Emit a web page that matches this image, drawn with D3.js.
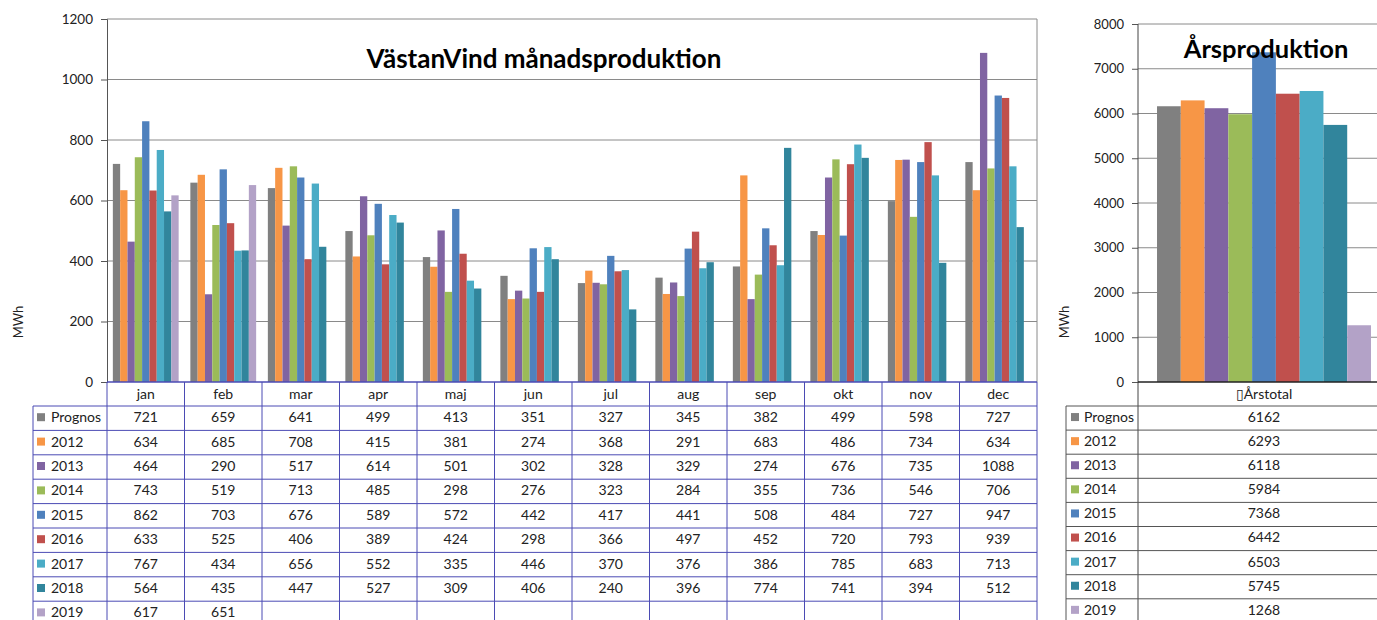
<!doctype html>
<html>
<head>
<meta charset="utf-8">
<style>
  body { margin: 0; background: #fff; }
  svg text { font-family: Lato, "Open Sans", sans-serif; fill: #222; }
</style>
<script src="https://d3js.org/d3.v7.min.js"></script>
</head>
<body>
<svg id="chart" width="1377" height="620"></svg>
<script>
// --- data ---
var months = ["jan", "feb", "mar", "apr", "maj", "jun", "jul", "aug", "sep", "okt", "nov", "dec"];
var seriesNames = ["Prognos", "2012", "2013", "2014", "2015", "2016", "2017", "2018", "2019"];
var prognos = [721, 659, 641, 499, 413, 351, 327, 345, 382, 499, 598, 727];
var y2012 = [634, 685, 708, 415, 381, 274, 368, 291, 683, 486, 734, 634];
var y2013 = [464, 290, 517, 614, 501, 302, 328, 329, 274, 676, 735, 1088];
var y2014 = [743, 519, 713, 485, 298, 276, 323, 284, 355, 736, 546, 706];
var y2015 = [862, 703, 676, 589, 572, 442, 417, 441, 508, 484, 727, 947];
var y2016 = [633, 525, 406, 389, 424, 298, 366, 497, 452, 720, 793, 939];
var y2017 = [767, 434, 656, 552, 335, 446, 370, 376, 386, 785, 683, 713];
var y2018 = [564, 435, 447, 527, 309, 406, 240, 396, 774, 741, 394, 512];
var y2019 = [617, 651];
var yearTotals = [6162, 6293, 6118, 5984, 7368, 6442, 6503, 5745, 1268];
var monthTicks = [0, 200, 400, 600, 800, 1000, 1200];
var yearTicks = [0, 1000, 2000, 3000, 4000, 5000, 6000, 7000, 8000];
var colors = ["#808080", "#f79646", "#8064a2", "#9bbb59", "#4f81bd", "#c0504d", "#4bacc6", "#31859c", "#b3a2c7"];

var seriesValues = [prognos, y2012, y2013, y2014, y2015, y2016, y2017, y2018, y2019];

var svg = d3.select("#chart");
var gridColor = "#8a8a8a";
var tableBlue = "#4b4bb4";

// ================= left chart: monthly =================
var L = { left: 107, right: 1037, top: 19, bottom: 382 };
var x0 = d3.scaleBand().domain(months).range([L.left, L.right]);
var x1 = d3.scaleBand().domain(seriesNames).range([0, x0.bandwidth()]).paddingOuter(0.8);
var y = d3.scaleLinear().domain([0, 1200]).range([L.bottom, L.top]);

var left = svg.append("g");

left.selectAll(".grid")
    .data(monthTicks.filter(function(d) { return d > 0; }))
    .enter().append("line")
    .attr("x1", L.left).attr("x2", L.right)
    .attr("y1", function(d) { return y(d); }).attr("y2", function(d) { return y(d); })
    .attr("stroke", gridColor);

left.append("line")
    .attr("x1", L.right).attr("x2", L.right).attr("y1", L.top).attr("y2", L.bottom)
    .attr("stroke", gridColor);

var yAx = left.append("g")
    .attr("transform", "translate(" + L.left + ",0)")
    .call(d3.axisLeft(y).tickValues(monthTicks).tickFormat(d3.format("d")).tickSize(6).tickPadding(8));
yAx.select(".domain").attr("stroke", "#555");
yAx.selectAll(".tick line").attr("stroke", "#555");
yAx.selectAll("text").attr("font-size", 13.5).attr("fill", "#222");

// bars
seriesValues.forEach(function(vals, si) {
    left.append("g").selectAll("rect")
        .data(vals)
        .enter().append("rect")
        .attr("x", function(d, i) { return x0(months[i]) + x1(seriesNames[si]); })
        .attr("y", function(d) { return y(d); })
        .attr("width", x1.bandwidth())
        .attr("height", function(d) { return y(0) - y(d); })
        .attr("fill", colors[si]);
});

left.append("text")
    .attr("x", 544).attr("y", 68)
    .attr("text-anchor", "middle")
    .attr("font-size", 26).attr("font-weight", "bold")
    .style("fill", "#000")
    .text("VästanVind månadsproduktion");

left.append("text")
    .attr("transform", "translate(23,322) rotate(-90)")
    .attr("text-anchor", "middle")
    .attr("font-size", 13)
    .text("MWh");

// data table
var rowH = 24.4, headTop = 382, bodyTop = 406, labelLeft = 33;
var tbl = left.append("g");
var nRows = seriesNames.length;

months.forEach(function(m) {
    tbl.append("text")
       .attr("x", x0(m) + x0.bandwidth() / 2).attr("y", headTop + 12)
       .attr("dy", "0.35em").attr("text-anchor", "middle").attr("font-size", 14)
       .text(m);
});

d3.range(nRows + 1).forEach(function(r) {
    tbl.append("line")
       .attr("x1", labelLeft).attr("x2", L.right)
       .attr("y1", bodyTop + r * rowH).attr("y2", bodyTop + r * rowH)
       .attr("stroke", tableBlue);
});
tbl.append("line")
   .attr("x1", L.left).attr("x2", L.right).attr("y1", headTop).attr("y2", headTop)
   .attr("stroke", tableBlue).attr("stroke-width", 1.5);
tbl.append("line")
   .attr("x1", labelLeft).attr("x2", labelLeft).attr("y1", bodyTop).attr("y2", 620)
   .attr("stroke", tableBlue);
months.concat(["end"]).forEach(function(m, i) {
    var xx = i < months.length ? x0(m) : L.right;
    tbl.append("line")
       .attr("x1", xx).attr("x2", xx).attr("y1", headTop).attr("y2", 620)
       .attr("stroke", tableBlue);
});

seriesNames.forEach(function(name, si) {
    var cy = bodyTop + si * rowH + rowH / 2 - 1;
    tbl.append("rect")
       .attr("x", 37).attr("y", cy - 4).attr("width", 8).attr("height", 8)
       .attr("fill", colors[si]);
    tbl.append("text")
       .attr("x", 51).attr("y", cy).attr("dy", "0.35em").attr("font-size", 14)
       .text(name);
    seriesValues[si].forEach(function(v, i) {
        tbl.append("text")
           .attr("x", x0(months[i]) + x0.bandwidth() / 2).attr("y", cy)
           .attr("dy", "0.35em").attr("text-anchor", "middle").attr("font-size", 14)
           .text(v);
    });
});

// ================= right chart: yearly totals =================
var R = { left: 1138, right: 1390, top: 24, bottom: 382 };
var xr = d3.scaleBand().domain(seriesNames).range([R.left, R.right]).paddingOuter(0.8);
var yr = d3.scaleLinear().domain([0, 8000]).range([R.bottom, R.top]);

var right = svg.append("g");

right.selectAll(".grid")
    .data(yearTicks.filter(function(d) { return d > 0; }))
    .enter().append("line")
    .attr("x1", R.left).attr("x2", R.right)
    .attr("y1", function(d) { return yr(d); }).attr("y2", function(d) { return yr(d); })
    .attr("stroke", gridColor);

var yrAx = right.append("g")
    .attr("transform", "translate(" + R.left + ",0)")
    .call(d3.axisLeft(yr).tickValues(yearTicks).tickFormat(d3.format("d")).tickSize(6).tickPadding(8));
yrAx.select(".domain").remove();
yrAx.selectAll(".tick line").attr("stroke", "#555");
yrAx.selectAll("text").attr("font-size", 13).attr("fill", "#222");

right.selectAll(".tot")
    .data(yearTotals)
    .enter().append("rect")
    .attr("x", function(d, i) { return xr(seriesNames[i]); })
    .attr("y", function(d) { return yr(d); })
    .attr("width", xr.bandwidth())
    .attr("height", function(d) { return yr(0) - yr(d); })
    .attr("fill", function(d, i) { return colors[i]; });

right.append("line")
    .attr("x1", R.left).attr("x2", R.left).attr("y1", R.top).attr("y2", 620)
    .attr("stroke", "#444");
right.append("line")
    .attr("x1", R.left).attr("x2", R.right).attr("y1", R.bottom).attr("y2", R.bottom)
    .attr("stroke", "#222").attr("stroke-width", 1.5);

right.append("text")
    .attr("x", 1266).attr("y", 58)
    .attr("text-anchor", "middle")
    .attr("font-size", 25.5).attr("font-weight", "bold")
    .style("fill", "#000")
    .text("Årsproduktion");

right.append("text")
    .attr("transform", "translate(1069,322) rotate(-90)")
    .attr("text-anchor", "middle")
    .attr("font-size", 13)
    .text("MWh");

var rowH2 = 24.1, labelLeft2 = 1066;
var tbl2 = right.append("g");
tbl2.append("text")
    .attr("x", 1264).attr("y", headTop + 12).attr("dy", "0.35em")
    .attr("text-anchor", "middle").attr("font-size", 14)
    .text("\u25AFÅrstotal");

d3.range(nRows + 1).forEach(function(r) {
    tbl2.append("line")
        .attr("x1", labelLeft2).attr("x2", R.right)
        .attr("y1", bodyTop + r * rowH2).attr("y2", bodyTop + r * rowH2)
        .attr("stroke", "#555");
});
tbl2.append("line")
    .attr("x1", labelLeft2).attr("x2", labelLeft2).attr("y1", bodyTop).attr("y2", 620)
    .attr("stroke", "#555");

seriesNames.forEach(function(name, si) {
    var cy = bodyTop + si * rowH2 + rowH2 / 2 - 1;
    tbl2.append("rect")
        .attr("x", 1071).attr("y", cy - 4).attr("width", 8).attr("height", 8)
        .attr("fill", colors[si]);
    tbl2.append("text")
        .attr("x", 1084).attr("y", cy).attr("dy", "0.35em").attr("font-size", 14)
        .text(name);
    tbl2.append("text")
        .attr("x", 1264).attr("y", cy).attr("dy", "0.35em")
        .attr("text-anchor", "middle").attr("font-size", 14)
        .text(yearTotals[si]);
});
</script>
</body>
</html>
